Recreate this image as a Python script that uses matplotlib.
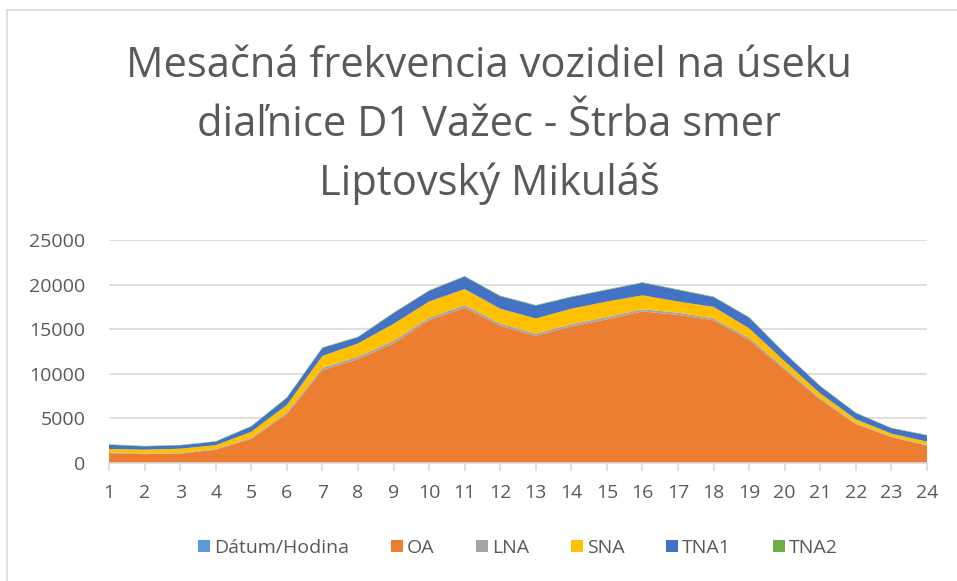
import matplotlib
matplotlib.use("Agg")
import matplotlib.pyplot as plt
from matplotlib.lines import Line2D

hours = list(range(1, 25))
datum_hodina = [0] * 24
oa = [1120, 1000, 1050, 1500, 2700, 5500, 10400, 11650, 13400, 16000, 17400, 15400,
      14250, 15300, 16100, 17000, 16600, 16000, 13800, 10450, 7100, 4350, 2900, 1950]
lna = [80, 70, 70, 80, 120, 180, 260, 280, 300, 280, 300, 250,
       250, 260, 270, 240, 250, 220, 250, 200, 150, 100, 80, 70]
sna = [370, 430, 480, 420, 680, 820, 1340, 1470, 1900, 1820, 1800, 1650,
       1700, 1740, 1730, 1560, 1250, 1280, 1050, 750, 550, 450, 320, 380]
tna1 = [480, 370, 380, 400, 600, 800, 900, 700, 1200, 1200, 1400, 1400,
        1450, 1300, 1300, 1400, 1300, 1100, 1200, 900, 800, 700, 600, 700]
tna2 = [40, 40, 40, 40, 50, 60, 60, 60, 60, 60, 60, 60,
        60, 60, 60, 60, 60, 60, 60, 50, 50, 40, 40, 40]
series_names = ["Dátum/Hodina", "OA", "LNA", "SNA", "TNA1", "TNA2"]
colors = ["#5B9BD5", "#ED7D31", "#A5A5A5", "#FFC000", "#4472C4", "#70AD47"]
title = "Mesačná frekvencia vozidiel na úseku\ndiaľnice D1 Važec - Štrba smer\nLiptovský Mikuláš"
yticks = [0, 5000, 10000, 15000, 20000, 25000]

plt.rcParams['font.family'] = ['Open Sans', 'DejaVu Sans']
txt = "#595959"

W, H = 957, 581
fig = plt.figure(figsize=(W / 100, H / 100), dpi=100)
# chart-area border (only the left and top edges are inside the picture)
fig.add_artist(Line2D([7 / W, 7 / W], [0, 1 - 10 / H], transform=fig.transFigure,
                      color="#D9D9D9", linewidth=1.2))
fig.add_artist(Line2D([7 / W, 1], [1 - 10 / H, 1 - 10 / H], transform=fig.transFigure,
                      color="#D9D9D9", linewidth=1.2))

ax = fig.add_axes([109 / W, 1 - 463 / H, (927 - 109) / W, (463 - 240) / H])

ax.stackplot(hours, datum_hodina, oa, lna, sna, tna1, tna2,
             colors=colors, labels=series_names, linewidth=0)

ax.set_xlim(1, 24)
ax.set_ylim(0, 25000)
ax.set_yticks(yticks)
ax.set_yticklabels([str(v) for v in yticks])
ax.set_xticks(hours)
ax.grid(axis='y', color="#D9D9D9", linewidth=1.2)
ax.set_axisbelow(True)
for s in ["top", "right", "left"]:
    ax.spines[s].set_visible(False)
ax.spines["bottom"].set_color("#D9D9D9")
ax.spines["bottom"].set_linewidth(1.2)
ax.tick_params(axis='y', length=0, labelsize=14, colors=txt, pad=17)
ax.tick_params(axis='x', length=6, width=1.2, color="#D9D9D9", labelsize=14,
               labelcolor=txt, pad=9)

fig.text(489 / W, 1 - 125 / H, title, ha='center', va='center', fontsize=30,
         color=txt, linespacing=1.52)

fig.legend(loc='center', bbox_to_anchor=(518 / W, 1 - 548 / H), ncol=6,
           frameon=False, fontsize=14, handlelength=0.62, handleheight=0.62,
           handletextpad=0.2, columnspacing=2.15, labelcolor=txt)

fig.savefig("out.png", dpi=100)
